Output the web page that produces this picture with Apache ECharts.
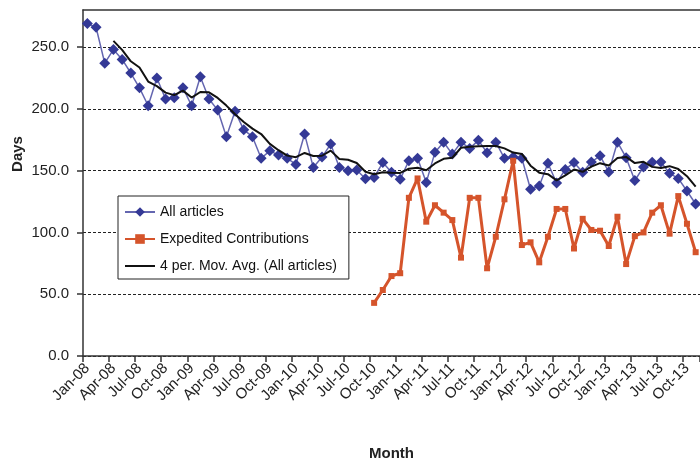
<!DOCTYPE html>
<html>
<head>
<meta charset="utf-8">
<script src="https://cdn.jsdelivr.net/npm/echarts@6/dist/echarts.min.js"></script>
<style>
html,body{margin:0;padding:0;background:#fff;}
#chart{width:700px;height:460px;}
</style>
</head>
<body>
<div id="chart"></div>
<script>
// Month categories Jan-08 .. Nov-13
const monthNames = ['Jan','Feb','Mar','Apr','May','Jun','Jul','Aug','Sep','Oct','Nov','Dec'];
const years = ['08','09','10','11','12','13'];
const lastMonthIndex2013 = 10; // Nov-13

// Series: All articles (days)
const allArticles = [
  269, 266, 237, 248, 240, 229, 217, 202.5, 225, 208, 209, 217,
  202.5, 226, 208, 199, 177.5, 198, 183, 177.5, 160, 166, 162.6, 160,
  155, 179.6, 152.6, 161, 171.5, 152.6, 150, 150.5, 143.5, 144.5, 156.5, 148.6,
  143, 158, 160, 140.5, 164.8, 173, 163.4, 173, 168, 174.5, 164.5, 173,
  160, 161, 160, 135, 137.5, 156, 140, 151, 156.5, 148.6, 157, 162,
  149, 173, 160.5, 142, 153, 156.7, 157, 147.8, 143.7, 133.5, 123
];

// Series: Expedited Contributions (days), starting Oct-10
const expeditedStart = 'Oct-10';
const expedited = [
  43, 53.4, 64.7,
  67, 128, 143.7, 108.7, 122, 116, 110, 79.6, 128, 128, 71, 96.5,
  126.8, 158, 89.8, 92, 75.8, 96.5, 119, 119, 87, 111, 102, 101.4,
  89, 112.7, 74.4, 97, 100, 116, 122, 99, 129.4, 107, 84
];

const yTicks = [0, 50, 100, 150, 200, 250];
const maPeriod = 4;

const categories = [];
years.forEach((y, yi) => {
  monthNames.forEach((m, mi) => {
    if (yi === years.length - 1 && mi > lastMonthIndex2013) return;
    categories.push(m + '-' + y);
  });
});

const startIdx = categories.indexOf(expeditedStart);
const expeditedData = categories.map((c, i) =>
  i >= startIdx && i - startIdx < expedited.length ? expedited[i - startIdx] : null);

// Excel "4 per. Mov. Avg." trendline of All articles
const movAvg = allArticles.map((v, i) => {
  if (i < maPeriod - 1) return null;
  let s = 0;
  for (let k = i - maPeriod + 1; k <= i; k++) s += allArticles[k];
  return +(s / maPeriod).toFixed(2);
});

const font = 'Liberation Sans, Arial, sans-serif';
const chart = echarts.init(document.getElementById('chart'), null, {renderer: 'canvas'});
chart.setOption({
  animation: false,
  backgroundColor: '#ffffff',
  textStyle: {fontFamily: font},
  grid: {left: 83, right: 0, top: 10, bottom: 104, containLabel: false, outerBoundsMode: 'none'},
  legend: {
    orient: 'vertical',
    left: 118, top: 196,
    backgroundColor: '#fff',
    borderColor: '#222', borderWidth: 1,
    padding: [9, 12, 6, 6],
    itemWidth: 30, itemHeight: 12, itemGap: 13,
    textStyle: {fontFamily: font, fontSize: 14, color: '#111'},
    data: [
      {name: 'All articles'},
      {name: 'Expedited Contributions'},
      {name: '4 per. Mov. Avg. (All articles)', itemStyle: {color: 'rgba(0,0,0,0)', borderColor: 'rgba(0,0,0,0)', borderWidth: 0}}
    ]
  },
  xAxis: [{
    type: 'category',
    data: categories,
    boundaryGap: true,
    name: 'Month',
    nameLocation: 'middle',
    nameGap: 90,
    nameMoveOverlap: false,
    nameTextStyle: {fontFamily: font, fontSize: 15, fontWeight: 'bold', color: '#222'},
    axisLine: {lineStyle: {color: '#333', width: 1.5}},
    axisTick: {show: true, interval: 2, length: 6, lineStyle: {color: '#333', width: 1.5}},
    axisLabel: {interval: 2, rotate: 45, margin: 10, fontSize: 15, color: '#222', fontFamily: font},
    splitLine: {show: false}
  }, {
    type: 'category',
    position: 'top',
    data: categories,
    axisLine: {show: true, lineStyle: {color: '#333', width: 1.5}},
    axisTick: {show: false},
    axisLabel: {show: false},
    splitLine: {show: false}
  }],
  yAxis: {
    type: 'value',
    min: 0, max: 280, interval: 50,
    name: 'Days',
    nameLocation: 'middle',
    nameGap: 58,
    nameRotate: 90,
    nameMoveOverlap: false,
    nameTextStyle: {fontFamily: font, fontSize: 15, fontWeight: 'bold', color: '#222', padding: [0, 0, 0, 58]},
    axisLine: {show: true, lineStyle: {color: '#333', width: 1.5}},
    axisTick: {show: true, length: 6, customValues: yTicks, lineStyle: {color: '#333', width: 1.5}},
    axisLabel: {
      fontSize: 15, color: '#222', fontFamily: font, margin: 14,
      formatter: v => (yTicks.indexOf(v) >= 0 ? v.toFixed(1) : '')
    },
    splitLine: {show: true, lineStyle: {color: '#222', type: [3, 2], width: 1.2}}
  },
  series: [{
    name: 'All articles',
    type: 'line',
    data: allArticles,
    symbol: 'diamond',
    symbolSize: 11,
    showAllSymbol: true,
    lineStyle: {color: '#6466b0', width: 1.5},
    itemStyle: {color: '#343996'},
    z: 2
  }, {
    name: 'Expedited Contributions',
    type: 'line',
    data: expeditedData,
    symbol: 'rect',
    symbolSize: 6,
    showAllSymbol: true,
    lineStyle: {color: '#d5542b', width: 3},
    itemStyle: {color: '#d5542b'},
    z: 3
  }, {
    name: '4 per. Mov. Avg. (All articles)',
    type: 'line',
    data: movAvg,
    symbol: 'none',
    lineStyle: {color: '#111', width: 2},
    itemStyle: {color: '#111'},
    z: 4
  }]
});
</script>
</body>
</html>
